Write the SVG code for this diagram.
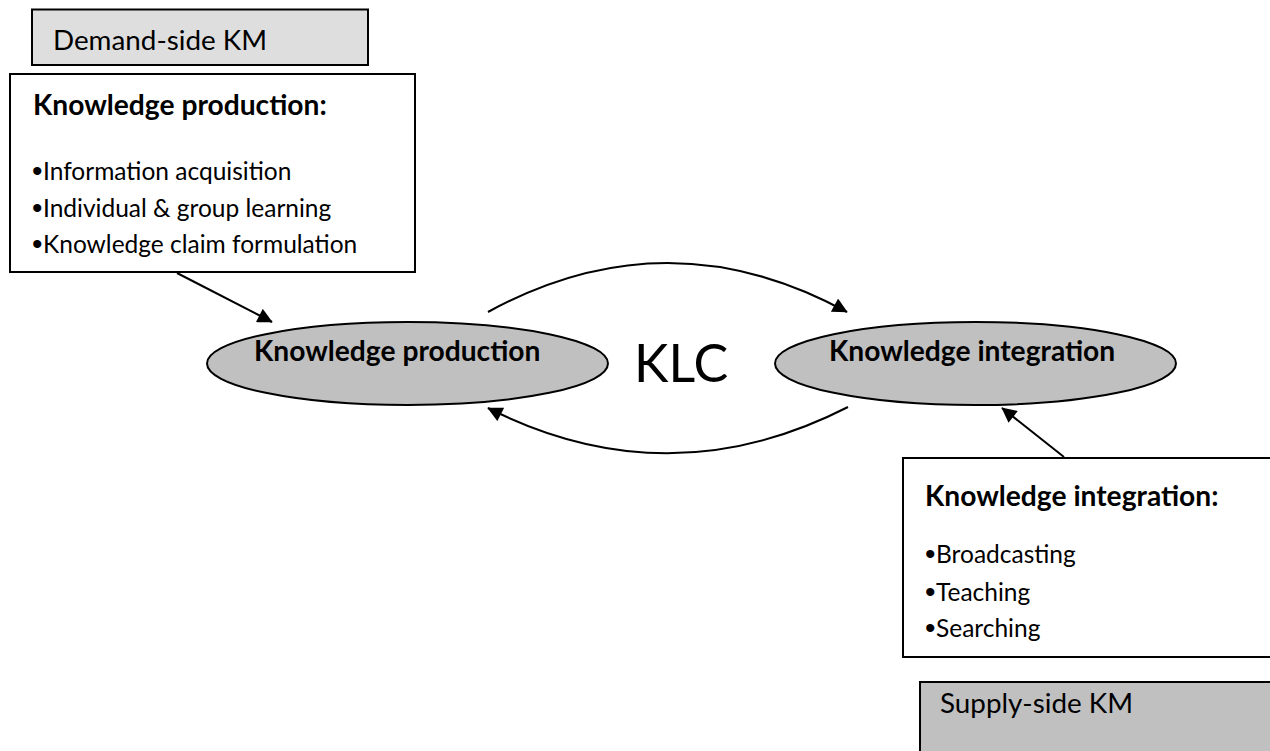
<svg xmlns="http://www.w3.org/2000/svg" width="1270" height="751" viewBox="0 0 1270 751">
  <defs>
    <style>
      .box { stroke: #000; stroke-width: 2; }
      .light { fill: #dedede; }
      .mid { fill: #c0c0c0; }
      .white { fill: #fff; }
      .txt { font-family: Lato, "Open Sans", "Liberation Sans", sans-serif; fill: #000; }
      .label { font-size: 27.8px; }
      .head { font-size: 28.2px; font-weight: bold; }
      .body { font-size: 24.5px; }
      .dot { font-family: "Liberation Sans", Arial, sans-serif; font-size: 30px; fill: #000; }
      .oval { fill: #c0c0c0; stroke: #000; stroke-width: 2; }
      .oval-text { font-size: 28.2px; font-weight: bold; }
      .klc { font-size: 52px; }
      .link { fill: none; stroke: #000; stroke-width: 2; }
    </style>
    <marker id="head" viewBox="0 0 10 10" refX="9.5" refY="5" markerWidth="16" markerHeight="15" markerUnits="userSpaceOnUse" orient="auto">
      <path d="M0,0 L10,5 L0,10 z" fill="#000"/>
    </marker>
  </defs>
  <rect width="1270" height="751" fill="#fff"/>

  <g id="demand-side">
    <rect class="box light" x="32" y="9.5" width="336" height="55.5"/>
    <text class="txt label" x="53" y="50">Demand-side KM</text>
  </g>

  <g id="production-box">
    <rect class="box white" x="10" y="74" width="405" height="198"/>
    <text class="txt head" x="33" y="115">Knowledge production:</text>
    <text class="dot" x="32" y="181">•</text>
    <text class="txt body" x="43" y="180">Information acquisition</text>
    <text class="dot" x="32" y="218">•</text>
    <text class="txt body" x="43" y="217">Individual &amp; group learning</text>
    <text class="dot" x="32" y="254">•</text>
    <text class="txt body" x="43" y="253">Knowledge claim formulation</text>
  </g>

  <g id="production-node">
    <ellipse class="oval" cx="407.5" cy="363.5" rx="200.5" ry="41.5"/>
    <text class="txt oval-text" x="254" y="361">Knowledge production</text>
  </g>

  <g id="klc-label">
    <text class="txt klc" x="634" y="382">KLC</text>
  </g>

  <g id="integration-node">
    <ellipse class="oval" cx="975.5" cy="363.5" rx="200.5" ry="41.5"/>
    <text class="txt oval-text" x="829" y="361">Knowledge integration</text>
  </g>

  <g id="integration-box">
    <rect class="box white" x="903" y="458" width="380" height="199"/>
    <text class="txt head" x="925" y="506">Knowledge integration:</text>
    <text class="dot" x="925" y="564">•</text>
    <text class="txt body" x="936" y="563">Broadcasting</text>
    <text class="dot" x="925" y="602">•</text>
    <text class="txt body" x="936" y="601">Teaching</text>
    <text class="dot" x="925" y="638">•</text>
    <text class="txt body" x="936" y="637">Searching</text>
  </g>

  <g id="supply-side">
    <rect class="box mid" x="920" y="682" width="360" height="80"/>
    <text class="txt label" x="940" y="713">Supply-side KM</text>
  </g>

  <g id="connectors">
    <path class="link" d="M177,273 L272,322" marker-end="url(#head)"/>
    <path class="link" d="M488,312 Q667.5,214 847,312" marker-end="url(#head)"/>
    <path class="link" d="M848,407 Q668,499 488,408" marker-end="url(#head)"/>
    <path class="link" d="M1064,457 L1002,408" marker-end="url(#head)"/>
  </g>
</svg>
